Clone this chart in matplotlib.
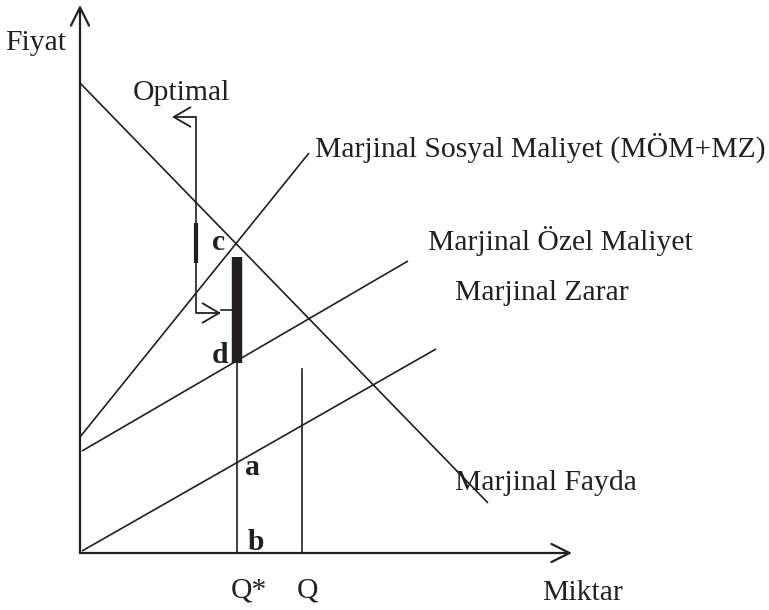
import matplotlib
matplotlib.use("Agg")
import matplotlib.pyplot as plt

# ---- diagram data (quantity, price) in diagram units; origin at axis corner ----
mf_x = [0, 408]          # Marjinal Fayda (demand)
mf_y = [470, 50]
msm_x = [0, 229]         # Marjinal Sosyal Maliyet
msm_y = [116, 400]
mom_x = [2, 328]         # Marjinal Özel Maliyet
mom_y = [102, 292]
mz_x = [2, 356]          # Marjinal Zarar
mz_y = [2, 204]

q_star = 157
q_val = 222
q_star_top = 190         # point d
q_top = 184
bar_bottom = 190
bar_top = 296

opt_x = 116              # Optimal bracket
opt_top = 436
opt_bottom = 240
opt_left_tip = 92
opt_right_tip = 141
opt_thick = [290, 330]

x_axis_end = 492
y_axis_end = 548

labels = {
    "Fiyat": (-75, 503),
    "Optimal": (53, 453),
    "Marjinal Sosyal Maliyet (MÖM+MZ)": (235, 396),
    "Marjinal Özel Maliyet": (348, 303),
    "Marjinal Zarar": (375, 253),
    "Marjinal Fayda": (375, 63),
    "Miktar": (462, -47),
    "Q*": (151, -45),
    "Q": (217, -45),
}
bold_labels = {"c": (132, 303), "d": (132, 190), "a": (165, 78), "b": (168, 3)}

plt.rcParams['font.family'] = ['Liberation Serif', 'DejaVu Serif']

fig = plt.figure(figsize=(7.69, 6.10), dpi=100)
ax = fig.add_axes([0, 0, 1, 1])
ax.set_xlim(-80, 689)
ax.set_ylim(-57, 553)
ax.set_axis_off()

col = "#231f20"
lw = 1.2
fs = 21.3

# axes with open arrowheads
arrow = dict(arrowstyle="->,head_length=1.3,head_width=0.65", color=col, lw=1.6,
             mutation_scale=10, shrinkA=0, shrinkB=0)
ax.annotate("", xy=(0, y_axis_end), xytext=(0, 0), arrowprops=arrow)
ax.annotate("", xy=(x_axis_end, 0), xytext=(0, 0), arrowprops=arrow)

# curves
for xs, ys in [(mf_x, mf_y), (msm_x, msm_y), (mom_x, mom_y), (mz_x, mz_y)]:
    ax.plot(xs, ys, color=col, lw=lw, solid_capstyle="butt")

# quantity lines
ax.plot([q_star, q_star], [0, q_star_top], color=col, lw=lw)
ax.plot([q_val, q_val], [0, q_top], color=col, lw=lw)
ax.plot([q_star, q_star], [bar_bottom, bar_top], color=col, lw=7.5, solid_capstyle="butt")

# Optimal bracket
ax.plot([opt_x, opt_x], [opt_bottom, opt_top], color=col, lw=lw, solid_capstyle="butt")
ax.plot([opt_x, opt_x], opt_thick, color=col, lw=3, solid_capstyle="butt")
arrow2 = dict(arrowstyle="->,head_length=1.2,head_width=0.7", color=col, lw=1.3,
              mutation_scale=10, shrinkA=0, shrinkB=0)
ax.annotate("", xy=(opt_left_tip, opt_top), xytext=(opt_x, opt_top), arrowprops=arrow2)
ax.annotate("", xy=(opt_right_tip, opt_bottom), xytext=(opt_x, opt_bottom), arrowprops=arrow2)
ax.plot([opt_right_tip, q_star], [opt_bottom + 3, opt_bottom + 3], color=col, lw=lw)

for t, (x, y) in labels.items():
    ax.text(x, y, t, fontsize=fs, color=col, ha="left", va="baseline")
for t, (x, y) in bold_labels.items():
    ax.text(x, y, t, fontsize=fs, fontweight="bold", color=col, ha="left", va="baseline")

fig.savefig("out.png", dpi=100)
